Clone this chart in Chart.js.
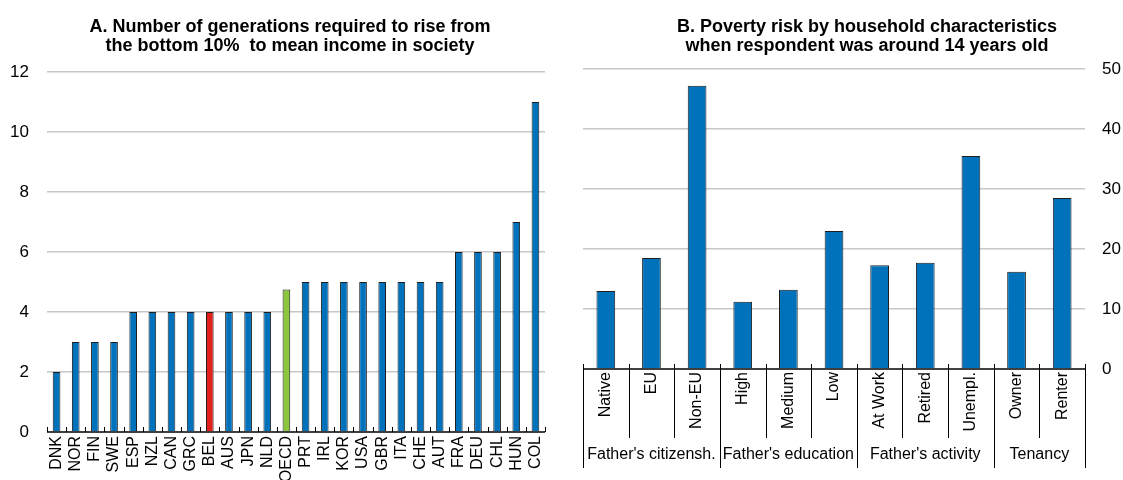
<!DOCTYPE html>
<html>
<head>
<meta charset="utf-8">
<script src="https://cdn.jsdelivr.net/npm/chart.js@4.4.1/dist/chart.umd.min.js"></script>
<style>
  html, body { margin: 0; padding: 0; background: #fff; }
  #wrap { position: relative; width: 1123px; height: 480px; overflow: hidden; }
  #left { position: absolute; left: 0; top: 0; }
  #right { position: absolute; left: 580px; top: 0; }
</style>
</head>
<body>
<div id="wrap">
  <canvas id="left" width="580" height="480"></canvas>
  <canvas id="right" width="543" height="480"></canvas>
</div>
<script>
const FONT = '"Liberation Sans", Arial, sans-serif';
const BLUE = '#0072BC';
const RED = '#E3201B';
const GREEN = '#8CC63F';

// Panel A
const countries = ['DNK', 'NOR', 'FIN', 'SWE', 'ESP', 'NZL', 'CAN', 'GRC', 'BEL', 'AUS', 'JPN', 'NLD', 'OECD',
  'PRT', 'IRL', 'KOR', 'USA', 'GBR', 'ITA', 'CHE', 'AUT', 'FRA', 'DEU', 'CHL', 'HUN', 'COL'];
const generations = [2, 3, 3, 3, 4, 4, 4, 4, 4, 4, 4, 4, 4.75, 5, 5, 5, 5, 5, 5, 5, 5, 6, 6, 6, 7, 11];
const titleA = ['A. Number of generations required to rise from', 'the bottom 10%  to mean income in society'];

// Panel B
const characteristics = ['Native', 'EU', 'Non-EU', 'High', 'Medium', 'Low', 'At Work', 'Retired', 'Unempl.', 'Owner', 'Renter'];
const povertyRisk = [13.0, 18.5, 47.2, 11.2, 13.2, 23.0, 17.3, 17.7, 35.5, 16.2, 28.5];
const groupNames = ["Father's citizensh.", "Father's education", "Father's activity", 'Tenancy'];
const groupSizes = [3, 3, 3, 2];
const titleB = ['B. Poverty risk by household characteristics', 'when respondent was around 14 years old'];

const barColor = c => c === 'BEL' ? RED : c === 'OECD' ? GREEN : BLUE;

// titles, x axis line, tick marks and group separators
const panelDecor = {
  id: 'panelDecor',
  afterDraw(chart, args, opts) {
    const {ctx, chartArea, scales: {x}} = chart;
    const y0 = chartArea.bottom;
    ctx.save();
    ctx.fillStyle = '#000';
    ctx.font = `bold 18px ${FONT}`;
    ctx.textAlign = 'center';
    ctx.textBaseline = 'alphabetic';
    opts.title.forEach((line, i) => ctx.fillText(line, opts.titleX, 32 + i * 19));

    ctx.strokeStyle = '#000';
    ctx.lineWidth = 1.5;
    ctx.beginPath();
    ctx.moveTo(chartArea.left, y0);
    ctx.lineTo(chartArea.right, y0);
    ctx.stroke();

    const n = chart.data.labels.length;
    const bounds = [];
    if (opts.groups) {
      let acc = 0;
      bounds.push(0);
      opts.groups.forEach(s => { acc += s; bounds.push(acc); });
    }
    ctx.lineWidth = 1;
    for (let i = 0; i <= n; i++) {
      const px = Math.round(x.getPixelForValue(i - 0.5)) + 0.5;
      ctx.beginPath();
      ctx.moveTo(px, y0 - 5);
      let end = y0;
      if (opts.groups) end = bounds.includes(i) ? y0 + 99 : y0 + 69;
      ctx.lineTo(px, end);
      ctx.stroke();
    }
    if (opts.groups) {
      ctx.font = `16px ${FONT}`;
      ctx.textBaseline = 'middle';
      let start = 0;
      opts.groupNames.forEach((name, g) => {
        const a = x.getPixelForValue(start - 0.5);
        const b = x.getPixelForValue(start + opts.groups[g] - 0.5);
        ctx.fillText(name, (a + b) / 2, y0 + 86);
        start += opts.groups[g];
      });
    }
    ctx.restore();
  }
};

const gridColor = c => c.tick && c.tick.value === 0 ? 'rgba(0,0,0,0)' : '#c8c8c8';

new Chart(document.getElementById('left'), {
  type: 'bar',
  data: {
    labels: countries,
    datasets: [{
      data: generations,
      backgroundColor: countries.map(barColor),
      borderColor: '#1e1e1e',
      borderWidth: 1,
      barPercentage: 0.4,
      categoryPercentage: 1
    }]
  },
  options: {
    responsive: false,
    animation: false,
    devicePixelRatio: 1,
    layout: {padding: {top: 72, right: 35, left: 0, bottom: 0}},
    plugins: {
      legend: {display: false},
      tooltip: {enabled: false},
      panelDecor: {title: titleA, titleX: 290}
    },
    scales: {
      x: {
        grid: {display: false, drawTicks: false},
        border: {display: false},
        ticks: {
          color: '#000', font: {family: FONT, size: 16},
          minRotation: 90, maxRotation: 90, autoSkip: false, padding: 4
        },
        afterFit: s => { s.height = 48; }
      },
      y: {
        min: 0, max: 12,
        grid: {color: gridColor, lineWidth: 1.5, drawTicks: false},
        border: {display: false},
        ticks: {stepSize: 2, color: '#000', font: {family: FONT, size: 17}, padding: 18},
        afterFit: s => { s.width = 47; }
      }
    }
  },
  plugins: [panelDecor]
});

new Chart(document.getElementById('right'), {
  type: 'bar',
  data: {
    labels: characteristics,
    datasets: [{
      data: povertyRisk,
      backgroundColor: BLUE,
      borderColor: '#1e1e1e',
      borderWidth: 1,
      barPercentage: 0.41,
      categoryPercentage: 1
    }]
  },
  options: {
    responsive: false,
    animation: false,
    devicePixelRatio: 1,
    layout: {padding: {top: 69, right: 0, left: 3, bottom: 0}},
    plugins: {
      legend: {display: false},
      tooltip: {enabled: false},
      panelDecor: {title: titleB, titleX: 287, groups: groupSizes, groupNames: groupNames}
    },
    scales: {
      x: {
        grid: {display: false, drawTicks: false},
        border: {display: false},
        ticks: {
          color: '#000', font: {family: FONT, size: 16},
          minRotation: 90, maxRotation: 90, autoSkip: false, padding: 3
        },
        afterFit: s => { s.height = 111; }
      },
      y: {
        position: 'right',
        min: 0, max: 50,
        grid: {color: gridColor, lineWidth: 1.5, drawTicks: false},
        border: {display: false},
        ticks: {stepSize: 10, color: '#000', font: {family: FONT, size: 17}, padding: 17},
        afterFit: s => { s.width = 38; }
      }
    }
  },
  plugins: [panelDecor]
});
</script>
</body>
</html>
